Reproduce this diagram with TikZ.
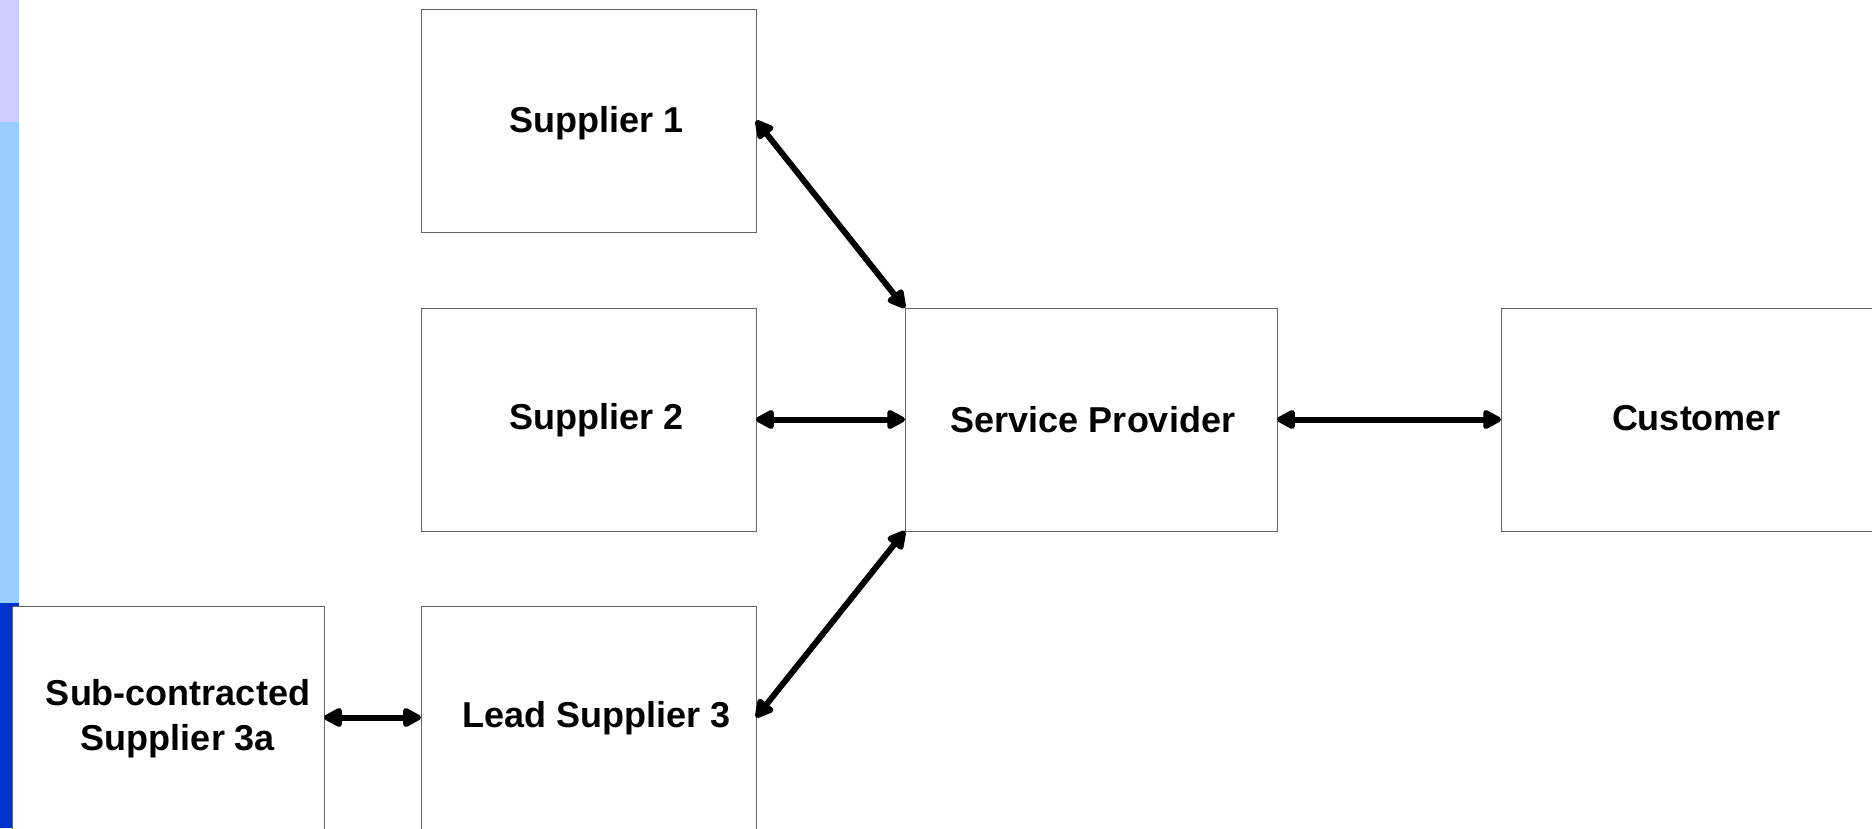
\documentclass[tikz,border=0pt]{standalone}
\usepackage{fontspec}
\setmainfont{Liberation Sans}
\usetikzlibrary{arrows.meta}
\definecolor{stripLav}{RGB}{204,204,255}
\definecolor{stripSky}{RGB}{153,204,255}
\definecolor{stripNavy}{RGB}{0,51,204}
\definecolor{boxline}{RGB}{100,100,100}
\begin{document}
\begin{tikzpicture}[x=1pt,y=-1pt,
  party/.style={draw=boxline, line width=1pt, fill=white, rectangle,
    inner sep=0pt, outer sep=0pt, minimum height=223pt},
  caption/.style={font=\fontsize{36pt}{45pt}\selectfont\bfseries,
    align=center, inner sep=0pt},
  link/.style={line width=6pt,
    {Triangle[length=21pt,width=21pt,round]}-{Triangle[length=21pt,width=21pt,round]}}
]
\useasboundingbox (0,0) rectangle (1872,828);
% coloured side strip
\fill[stripLav] (0,0) rectangle (19,122);
\fill[stripSky] (0,122) rectangle (19,603);
\fill[stripNavy] (0,603) rectangle (19,828);

% boxes
\node[party, minimum width=335pt] (s1)   at (588.5,120.5) {};
\node[party, minimum width=335pt] (s2)   at (588.5,419.5) {};
\node[party, minimum width=335pt] (lead) at (588.5,717.5) {};
\node[party, minimum width=312pt] (sub)  at (168,717.5) {};
\node[party, minimum width=372pt] (sp)   at (1091,419.5) {};
\node[party, minimum width=390pt] (cust) at (1696,419.5) {};

% captions
\node[caption] (s1t)   at ([xshift=8pt,yshift=-2.5pt]s1.center) {Supplier 1};
\node[caption] (s2t)   at ([xshift=8pt,yshift=-1pt]s2.center)   {Supplier 2};
\node[caption] (leadt) at ([xshift=8pt,yshift=-1pt]lead.center) {Lead Supplier 3};
\node[caption] (subt)  at ([xshift=10pt,yshift=-1pt]sub.center) {Sub-contracted\\Supplier 3a};
\node[caption] (spt)   at ([xshift=2pt]sp.center)               {Service Provider};
\node[caption] (custt) at ([yshift=1pt]cust.center)             {Customer};

% connectors
\draw[link] (s1.east) -- (sp.north west);
\draw[link] (s2.east) -- (sp.west);
\draw[link] (lead.east) -- (sp.south west);
\draw[link] (sub.east) -- (lead.west);
\draw[link] (sp.east) -- (cust.west);
\end{tikzpicture}
\end{document}
